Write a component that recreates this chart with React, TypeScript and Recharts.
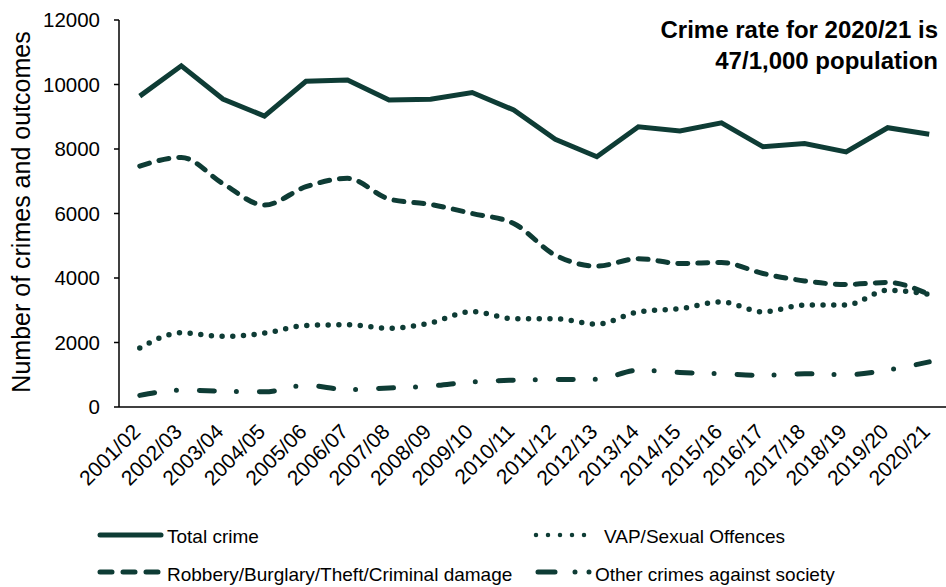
import { LineChart, Line, XAxis, YAxis } from 'recharts';

const categories = [
  '2001/02', '2002/03', '2003/04', '2004/05', '2005/06', '2006/07', '2007/08',
  '2008/09', '2009/10', '2010/11', '2011/12', '2012/13', '2013/14', '2014/15',
  '2015/16', '2016/17', '2017/18', '2018/19', '2019/20', '2020/21',
];
const totalCrime = [
  9640, 10580, 9550, 9020, 10100, 10140, 9520, 9540, 9750, 9210,
  8300, 7760, 8690, 8560, 8810, 8070, 8170, 7910, 8660, 8460,
];
const robberyEtc = [
  7470, 7740, 6930, 6260, 6830, 7090, 6450, 6280, 6000, 5690,
  4710, 4370, 4600, 4450, 4480, 4140, 3910, 3800, 3860, 3490,
];
const vapSexual = [
  1830, 2300, 2190, 2290, 2530, 2550, 2440, 2610, 2960, 2740,
  2740, 2570, 2950, 3050, 3260, 2950, 3160, 3160, 3620, 3490,
];
const otherCrimes = [
  360, 520, 490, 470, 670, 540, 590, 650, 780, 830,
  850, 860, 1140, 1070, 1030, 980, 1030, 1000, 1150, 1400,
];
const yTicks = [0, 2000, 4000, 6000, 8000, 10000, 12000];

const GREEN = '#0e3c35';
const FONT = 'Arial, "Liberation Sans", sans-serif';

const rows = categories.map((c, i) => ({
  i,
  cat: c,
  total: totalCrime[i],
  robbery: robberyEtc[i],
  vap: vapSexual[i],
  other: otherCrimes[i],
}));

const catTicks = categories.map((_, i) => i);
const boundaryTicks = [...categories.map((_, i) => i - 0.5), categories.length - 0.5];

function CatTick(props: any) {
  const { x, y, payload } = props;
  const ax = x + 2;
  const ay = y + 18;
  return (
    <text
      x={ax}
      y={ay}
      transform={`rotate(-45, ${ax}, ${ay})`}
      textAnchor="end"
      fontSize={21}
      fontFamily={FONT}
      fill="#000"
    >
      {categories[payload.value]}
    </text>
  );
}

export default function App() {
  return (
    <div
      style={{
        position: 'absolute',
        left: 0,
        top: 0,
        width: 946,
        height: 587,
        overflow: 'hidden',
        background: '#fff',
        fontFamily: FONT,
      }}
    >
      <LineChart
        width={952}
        height={587}
        data={rows}
        margin={{ top: 20, right: 2, left: 0, bottom: 72 }}
      >
        <YAxis
          width={119}
          type="number"
          domain={[0, 12000]}
          ticks={yTicks}
          interval={0}
          tickSize={5}
          tickMargin={14}
          axisLine={{ stroke: '#000', strokeWidth: 1.5 }}
          tickLine={{ stroke: '#000', strokeWidth: 1.5 }}
          tick={{ fontSize: 20.5, fill: '#000', fontFamily: FONT }}
        />
        <XAxis
          xAxisId="a"
          dataKey="i"
          type="number"
          domain={[-0.5, categories.length - 0.5]}
          ticks={boundaryTicks}
          interval={0}
          height={8}
          tickSize={7}
          tick={false}
          axisLine={{ stroke: '#000', strokeWidth: 1.5 }}
          tickLine={{ stroke: '#000', strokeWidth: 1.5 }}
        />
        <XAxis
          xAxisId="b"
          dataKey="i"
          type="number"
          domain={[-0.5, categories.length - 0.5]}
          ticks={catTicks}
          interval={0}
          height={100}
          tickSize={0}
          tickMargin={0}
          axisLine={false}
          tickLine={false}
          tick={<CatTick />}
        />
        <Line
          xAxisId="a"
          dataKey="total"
          type="linear"
          stroke={GREEN}
          strokeWidth={5}
          dot={false}
          activeDot={false}
          isAnimationActive={false}
        />
        <Line
          xAxisId="a"
          dataKey="robbery"
          type="monotone"
          stroke={GREEN}
          strokeWidth={5}
          strokeDasharray="10 10"
          strokeLinecap="round"
          dot={false}
          activeDot={false}
          isAnimationActive={false}
        />
        <Line
          xAxisId="a"
          dataKey="vap"
          type="monotone"
          stroke={GREEN}
          strokeWidth={5.5}
          strokeDasharray="0 10.7"
          strokeLinecap="round"
          dot={false}
          activeDot={false}
          isAnimationActive={false}
        />
        <Line
          xAxisId="a"
          dataKey="other"
          type="monotone"
          stroke={GREEN}
          strokeWidth={5}
          strokeDasharray="15 22 0 23"
          strokeLinecap="round"
          dot={false}
          activeDot={false}
          isAnimationActive={false}
        />
      </LineChart>

      <svg
        width={946}
        height={587}
        style={{ position: 'absolute', left: 0, top: 0, pointerEvents: 'none' }}
      >
        <text
          x={30}
          y={212}
          transform="rotate(-90, 30, 212)"
          textAnchor="middle"
          fontSize={25}
          fontFamily={FONT}
          fill="#000"
        >
          Number of crimes and outcomes
        </text>

        <text x={938} y={38} textAnchor="end" fontSize={24} fontWeight="bold" fontFamily={FONT} fill="#000">
          Crime rate for 2020/21 is
        </text>
        <text x={938} y={69} textAnchor="end" fontSize={24} fontWeight="bold" fontFamily={FONT} fill="#000">
          47/1,000 population
        </text>

        <line x1={100} y1={535} x2={161} y2={535} stroke={GREEN} strokeWidth={5} strokeLinecap="round" />
        <text x={167} y={543} fontSize={19} fontFamily={FONT} fill="#000">Total crime</text>

        <line x1={536} y1={535} x2={596} y2={535} stroke={GREEN} strokeWidth={4.5} strokeLinecap="round" strokeDasharray="0 12" />
        <text x={604} y={543} fontSize={19} fontFamily={FONT} fill="#000">VAP/Sexual Offences</text>

        <line x1={100} y1={572} x2={161} y2={572} stroke={GREEN} strokeWidth={5} strokeLinecap="round" strokeDasharray="12 11" />
        <text x={167} y={581} fontSize={19} fontFamily={FONT} fill="#000">Robbery/Burglary/Theft/Criminal damage</text>

        <line x1={538} y1={572} x2={590} y2={572} stroke={GREEN} strokeWidth={5} strokeLinecap="round" strokeDasharray="17 20 0 14 0 40" />
        <text x={595} y={581} fontSize={19} fontFamily={FONT} fill="#000">Other crimes against society</text>
      </svg>
    </div>
  );
}
